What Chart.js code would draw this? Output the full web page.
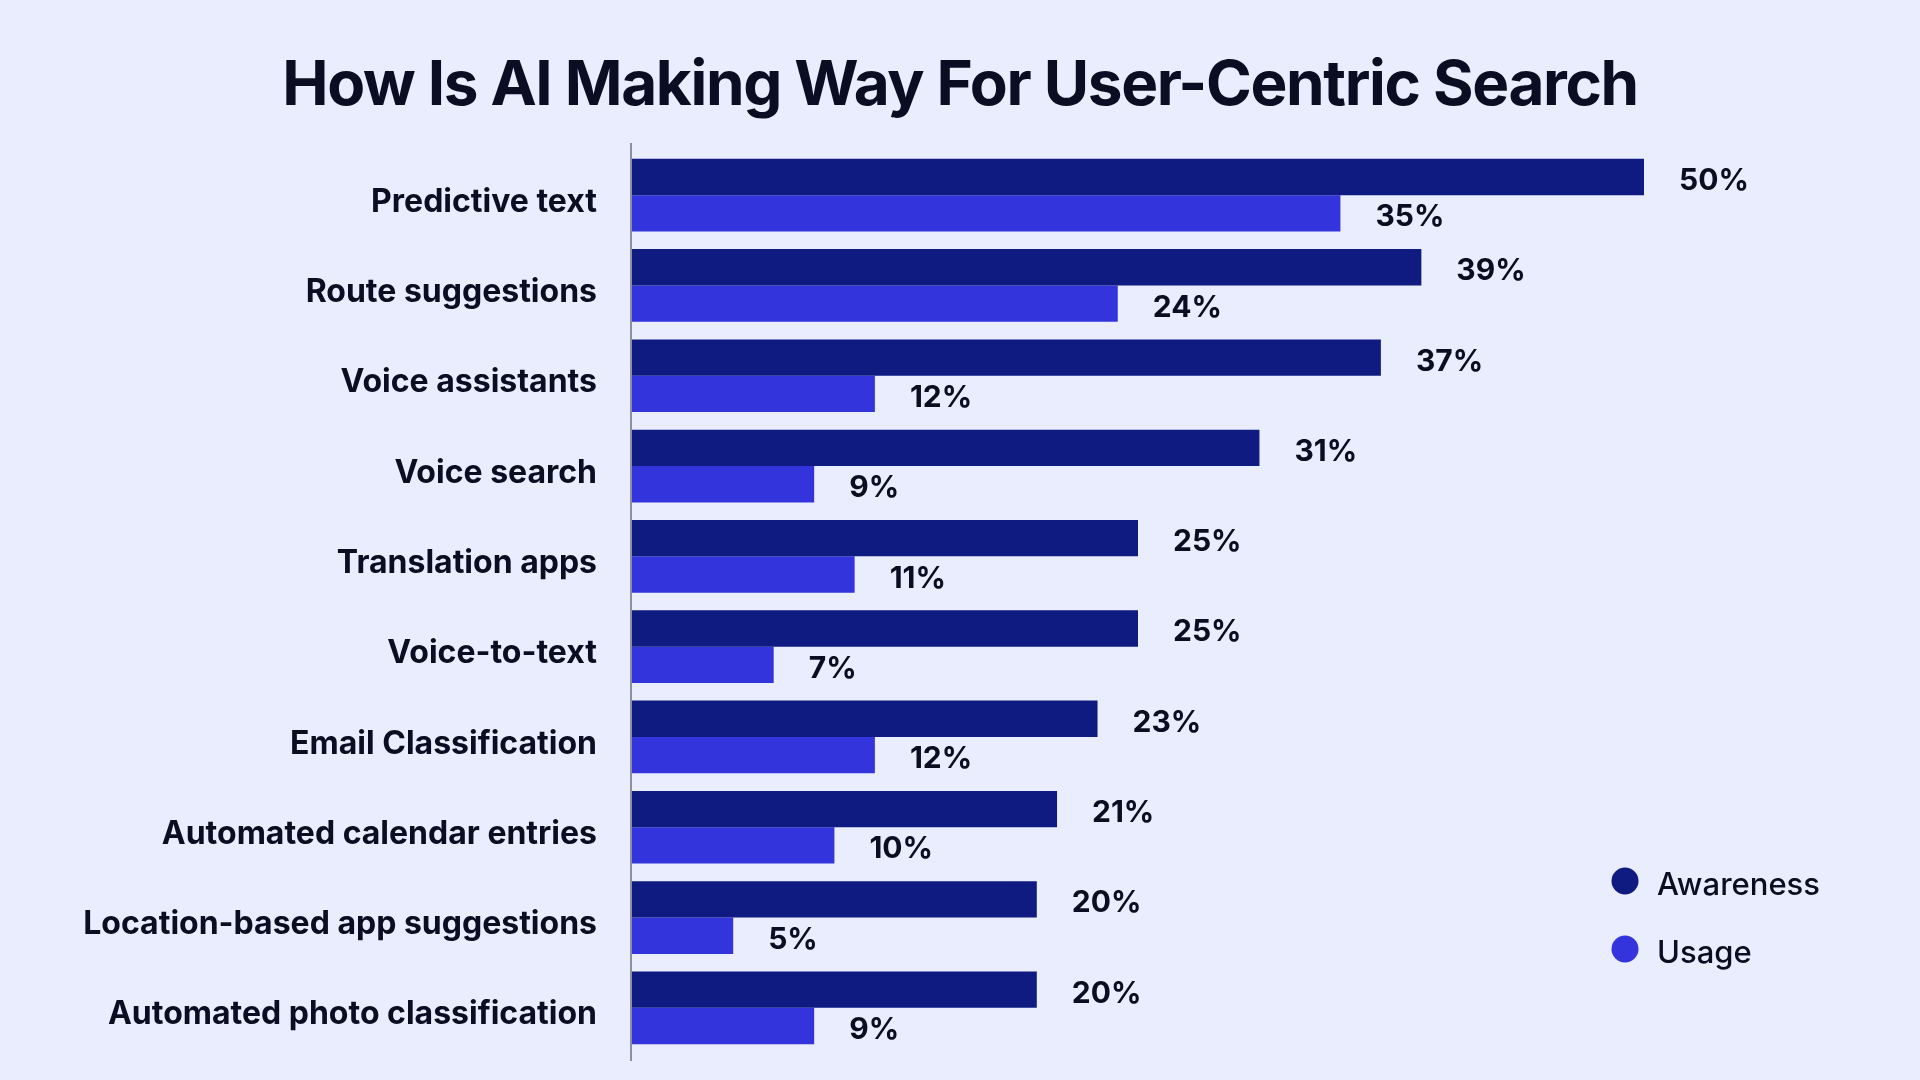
<!DOCTYPE html>
<html>
<head>
<meta charset="utf-8">
<script src="https://cdn.jsdelivr.net/npm/chart.js@4.4.1/dist/chart.umd.min.js"></script>
<style>
  html, body { margin: 0; padding: 0; background: #eaedfd; }
  #wrap { width: 1920px; height: 1080px; position: relative; }
  canvas { display: block; }
</style>
</head>
<body>
<div id="wrap"><canvas id="c" width="1920" height="1080"></canvas></div>
<script>
const titleText = "How Is AI Making Way For User-Centric Search";
const categories = [
  "Predictive text",
  "Route suggestions",
  "Voice assistants",
  "Voice search",
  "Translation apps",
  "Voice-to-text",
  "Email Classification",
  "Automated calendar entries",
  "Location-based app suggestions",
  "Automated photo classification"
];
const seriesNames = ["Awareness", "Usage"];
const awareness = [50, 39, 37, 31, 25, 25, 23, 21, 20, 20];
const usage = [35, 24, 12, 9, 11, 7, 12, 10, 5, 9];
const colors = ["#0f1b80", "#3334dc"];
const textColor = "#0b0d22";
const FONT = "Inter, 'Noto Sans', sans-serif";

const titlePlugin = {
  id: 'customTitle',
  afterDraw(chart) {
    const ctx = chart.ctx;
    ctx.save();
    ctx.font = "700 62px " + FONT;
    ctx.letterSpacing = "-1.35px";
    ctx.fillStyle = textColor;
    ctx.textAlign = "center";
    ctx.textBaseline = "alphabetic";
    ctx.fillText(titleText, 960, 105);
    ctx.restore();
  }
};

const axisLinePlugin = {
  id: 'axisLine',
  afterDatasetsDraw(chart) {
    const ctx = chart.ctx;
    const x = chart.scales.x.getPixelForValue(0);
    ctx.save();
    ctx.strokeStyle = "#8d8f9e";
    ctx.lineWidth = 2;
    ctx.beginPath();
    ctx.moveTo(x - 1, chart.chartArea.top - 7);
    ctx.lineTo(x - 1, chart.chartArea.bottom + 8);
    ctx.stroke();
    ctx.restore();
  }
};

const valueLabelPlugin = {
  id: 'valueLabels',
  afterDatasetsDraw(chart) {
    const ctx = chart.ctx;
    ctx.save();
    ctx.font = "700 30px " + FONT;
    ctx.fillStyle = textColor;
    ctx.textAlign = "left";
    ctx.textBaseline = "middle";
    chart.data.datasets.forEach((ds, di) => {
      const meta = chart.getDatasetMeta(di);
      meta.data.forEach((el, i) => {
        ctx.fillText(ds.data[i] + "%", el.x + 35, el.y + 4);
      });
    });
    ctx.restore();
  }
};

const legendPlugin = {
  id: 'customLegend',
  afterDraw(chart) {
    const ctx = chart.ctx;
    ctx.save();
    ctx.font = "500 31px " + FONT;
    ctx.textAlign = "left";
    ctx.textBaseline = "middle";
    chart.data.datasets.forEach((ds, i) => {
      const cy = 881 + i * 68;
      ctx.fillStyle = ds.backgroundColor;
      ctx.beginPath();
      ctx.arc(1625, cy, 13.5, 0, Math.PI * 2);
      ctx.fill();
      ctx.fillStyle = textColor;
      ctx.fillText(ds.label, 1657, cy + 5);
    });
    ctx.restore();
  }
};

new Chart(document.getElementById('c'), {
  type: 'bar',
  data: {
    labels: categories,
    datasets: [
      { label: seriesNames[0], data: awareness, backgroundColor: colors[0] },
      { label: seriesNames[1], data: usage, backgroundColor: colors[1] }
    ]
  },
  options: {
    indexAxis: 'y',
    responsive: false,
    animation: false,
    layout: { padding: { top: 150, bottom: 27, left: 0, right: 276 } },
    datasets: { bar: { categoryPercentage: 0.805, barPercentage: 1.0 } },
    plugins: {
      legend: { display: false },
      title: { display: false },
      tooltip: { enabled: false }
    },
    scales: {
      x: {
        display: false,
        min: 0,
        max: 50,
        ticks: { display: false },
        grid: { display: false, drawTicks: false },
        border: { display: false }
      },
      y: {
        grid: { display: false, drawTicks: false },
        border: { display: false },
        ticks: {
          color: textColor,
          font: { family: FONT, size: 32, weight: 700 },
          padding: 35,
          labelOffset: 7
        },
        afterFit(scale) {
          scale.width = 632;
          scale.paddingTop = 0;
          scale.paddingBottom = 0;
        }
      }
    }
  },
  plugins: [titlePlugin, axisLinePlugin, valueLabelPlugin, legendPlugin]
});
</script>
</body>
</html>
